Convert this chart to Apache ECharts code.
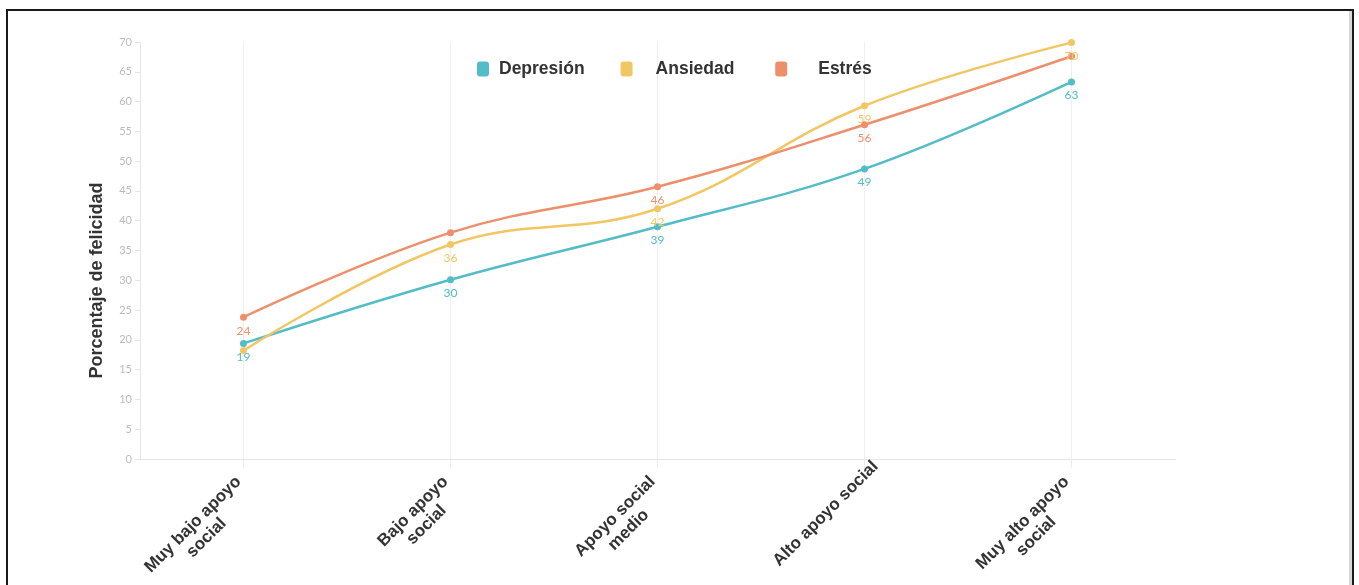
<!DOCTYPE html>
<html>
<head>
<meta charset="utf-8">
<script src="https://cdn.jsdelivr.net/npm/echarts@6/dist/echarts.min.js"></script>
<style>
html,body{margin:0;padding:0;background:#fff;}
#chart{width:1359px;height:585px;}
#frame{position:absolute;left:6px;top:9px;width:1344px;height:600px;border:2px solid #1a1a1a;border-bottom:none;pointer-events:none;box-shadow:inset -3px 0 0 #d8d8d8;}
</style>
</head>
<body>
<div id="chart"></div>
<div id="frame"></div>
<script>
const categories = ["Muy bajo apoyo\nsocial", "Bajo apoyo\nsocial", "Apoyo social\nmedio", "Alto apoyo social", "Muy alto apoyo\nsocial"];
const depresion = [19.4, 30.1, 39.0, 48.7, 63.3];
const ansiedad = [18.2, 36.0, 42.0, 59.3, 69.9];
const estres = [23.8, 38.0, 45.7, 56.1, 67.6];
const yTicks = {min: 0, max: 70, interval: 5};
const hiddenLabels = {"Depresión": [], "Ansiedad": [0], "Estrés": [1, 4]};

const colors = {"Depresión": "#52bdc6", "Ansiedad": "#f1c764", "Estrés": "#ee8f6c"};
const FONT = 'Liberation Sans';

function mkSeries(name, values) {
  return {
    name: name,
    type: 'line',
    smooth: 0.4,
    symbol: 'circle',
    symbolSize: 7,
    lineStyle: {width: 2.5, color: colors[name]},
    itemStyle: {color: colors[name]},
    label: {
      show: true, position: 'bottom', distance: 4,
      color: colors[name], fontSize: 12, fontFamily: 'Lato',
      formatter: p => Math.round(p.value)
    },
    data: values.map((v, i) => hiddenLabels[name].includes(i) ? {value: v, label: {show: false}} : v)
  };
}

function labelStyle(cat) {
  const multi = cat.indexOf('\n') >= 0;
  return {padding: multi ? [39, 17, 0, 0] : [21, -5, 0, 0]};
}

const legendText = {color: '#333', fontSize: 17.5, fontWeight: 'bold', fontFamily: FONT};

const chart = echarts.init(document.getElementById('chart'));
chart.setOption({
  animation: false,
  backgroundColor: '#fff',
  grid: {left: 140, right: 184, top: 42, bottom: 126, containLabel: false, outerBoundsMode: 'none'},
  legend: {
    left: 472, top: 55,
    itemWidth: 12, itemHeight: 15, itemGap: 36,
    icon: 'roundRect',
    data: ['Depresión', 'Ansiedad', 'Estrés'],
    formatter: function (name) {
      if (name === 'Depresión') return '{a|' + name + '}';
      if (name === 'Ansiedad') return '{b|' + name + '}{g| }';
      return '{c|' + name + '}';
    },
    textStyle: Object.assign({}, legendText, {
      rich: {
        a: Object.assign({}, legendText, {padding: [0, 1, 0, 5]}),
        b: Object.assign({}, legendText, {padding: [0, 0, 0, 18]}),
        g: Object.assign({}, legendText, {width: 11}),
        c: Object.assign({}, legendText, {padding: [0, 0, 0, 26]})
      }
    })
  },
  xAxis: {
    type: 'category',
    data: categories.map(c => ({value: c, textStyle: labelStyle(c)})),
    boundaryGap: true,
    axisLine: {show: true, lineStyle: {color: '#e6e6e6'}},
    axisTick: {show: true, alignWithLabel: true, length: 9, lineStyle: {color: '#ececec'}},
    splitLine: {show: true, alignWithLabel: true, lineStyle: {color: '#efefef', width: 1}},
    axisLabel: {
      interval: 0, rotate: 45, margin: 1,
      color: '#333', fontSize: 17, fontWeight: 'bold', fontFamily: FONT,
      formatter: function (v) { return v.split('\n').map(s => '{c|' + s + '}').join('\n'); },
      rich: {c: {align: 'center', color: '#333', fontSize: 17, fontWeight: 'bold', fontFamily: FONT, lineHeight: 19}}
    }
  },
  yAxis: {
    type: 'value',
    min: yTicks.min, max: yTicks.max, interval: yTicks.interval,
    name: 'Porcentaje de felicidad',
    nameLocation: 'middle',
    nameGap: 34,
    nameTextStyle: {color: '#333', fontSize: 18, fontWeight: 'bold', fontFamily: FONT, padding: [0, 60, 0, 0]},
    axisLine: {show: true, lineStyle: {color: '#e6e6e6'}},
    axisTick: {show: true, length: 5, lineStyle: {color: '#e6e6e6'}},
    splitLine: {show: false},
    axisLabel: {color: '#bbbbbb', fontSize: 11, fontFamily: 'Lato', margin: 8}
  },
  series: [
    mkSeries('Depresión', depresion),
    mkSeries('Ansiedad', ansiedad),
    mkSeries('Estrés', estres)
  ]
});
</script>
</body>
</html>
